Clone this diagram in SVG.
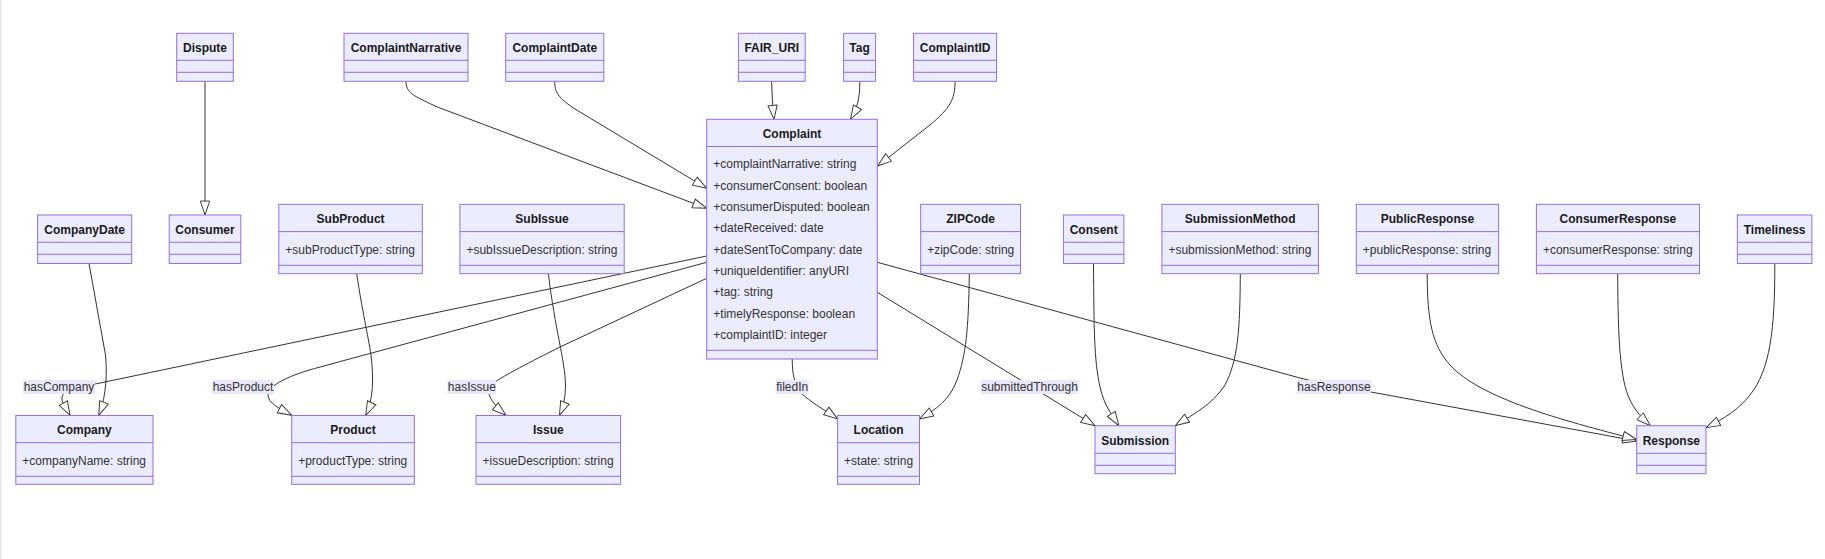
<svg xmlns="http://www.w3.org/2000/svg" width="1825" height="559" viewBox="0 0 1825 559">
<style>
.bx{fill:#ECECFF;stroke:#9370DB;stroke-width:1}
.dv{stroke:#9370DB;stroke-width:1}
.t{font-family:"Liberation Sans",Arial,sans-serif;font-size:12px;font-weight:bold;fill:#1a1a1a;text-anchor:middle}
.a{font-family:"Liberation Sans",Arial,sans-serif;font-size:12px;fill:#333}
.e{fill:none;stroke:#333;stroke-width:1;marker-end:url(#ext)}
.lb{fill:#e8e8fa}
.lt{font-family:"Liberation Sans",Arial,sans-serif;font-size:12px;fill:#333;text-anchor:middle}
</style>
<defs>
<marker id="ext" viewBox="0 0 20 14" refX="19" refY="7" markerWidth="15.5" markerHeight="10.85" markerUnits="userSpaceOnUse" orient="auto">
<path d="M1,1 V13 L19,7 Z" fill="#fff" stroke="#333" stroke-width="1.2"/>
</marker>
</defs>
<rect x="0" y="0" width="1825" height="559" fill="#fff"/>
<rect x="0" y="0" width="1.5" height="559" fill="#e6e6e6"/>

<g id="connectors">
<path class="e" d="M205,81.3 L205,215"/>
<path class="e" d="M406,81.3 C406,92 412,96 440,108 L706.7,208.3"/>
<path class="e" d="M554.7,81.3 C554.7,92 558,98 575,109 L706.7,188.3"/>
<path class="e" d="M771.6,81.3 Q772,100 774,119.3"/>
<path class="e" d="M859.8,81.3 C859.8,100 857,108 850.5,119.3"/>
<path class="e" d="M955,81.3 C955,100 950,108 930,125 L877.5,166"/>
<path class="e" d="M89,263.5 L105.5,355 C107,370 107,395 98.8,415.3"/>
<path class="e" d="M706.7,256 L100,383 C80,387 62,389 62,398 C62,404 66,408 70,415.3"/>
<path class="e" d="M706.7,262.3 L320,367 C290,375 268,385 268,395 C268,403 280,409 291.7,415.3"/>
<path class="e" d="M706.7,278.3 L560,347 C530,362 505,375 490,385 C486,392 490,402 506,415.3"/>
<path class="e" d="M356.7,273.7 C362,310 368,335 371,355 C374,380 373,400 365.7,415.3"/>
<path class="e" d="M548.4,273.7 C555,330 565,360 565.5,385 C565.5,398 563,407 559.5,415.3"/>
<path class="e" d="M792.2,359 C792.2,375 795,385 800,392 C810,402 825,410 837.6,419"/>
<path class="e" d="M969.3,273.7 C968.5,330 966,355 957,380 C950,400 935,410 919.5,419"/>
<path class="e" d="M877.3,292.3 L1095,425.7"/>
<path class="e" d="M1093.5,263.3 C1094,330 1094,360 1100,387 C1104,405 1112,415 1118.8,425.7"/>
<path class="e" d="M1240.3,273.7 C1240,330 1238,360 1225,385 C1212,405 1195,413 1175.3,425.7"/>
<path class="e" d="M877.3,262.3 L1300,378 C1320,383 1345,388 1371,392 L1636.7,441"/>
<path class="e" d="M1427.2,273.7 C1427.2,320 1432,345 1450,365 C1480,398 1560,420 1636.7,439.5"/>
<path class="e" d="M1617.7,273.7 C1618,340 1620,380 1630,400 C1636,412 1642,418 1650.4,425.7"/>
<path class="e" d="M1774.8,263.3 C1775,330 1770,370 1750,395 C1738,410 1725,418 1706.2,427.7"/>
<rect class="lb" x="23" y="380" width="72" height="14"/><text class="lt" x="59" y="391.2">hasCompany</text>
<rect class="lb" x="212" y="380" width="62" height="14"/><text class="lt" x="243" y="391.2">hasProduct</text>
<rect class="lb" x="447.5" y="380" width="48.5" height="14"/><text class="lt" x="471.8" y="391.2">hasIssue</text>
<rect class="lb" x="776" y="380" width="32.5" height="14"/><text class="lt" x="792.2" y="391.2">filedIn</text>
<rect class="lb" x="980.5" y="380" width="98" height="14"/><text class="lt" x="1029.5" y="391.2">submittedThrough</text>
<rect class="lb" x="1297" y="380" width="74" height="14"/><text class="lt" x="1334" y="391.2">hasResponse</text>
</g>

<g id="Dispute"><rect class="bx" x="176.7" y="33.3" width="56.6" height="48"/><line class="dv" x1="176.7" y1="60.3" x2="233.3" y2="60.3"/><line class="dv" x1="176.7" y1="72.3" x2="233.3" y2="72.3"/><text class="t" x="205" y="52">Dispute</text></g>
<g id="ComplaintNarrative"><rect class="bx" x="344" y="33.3" width="124" height="48"/><line class="dv" x1="344" y1="60.3" x2="468" y2="60.3"/><line class="dv" x1="344" y1="72.3" x2="468" y2="72.3"/><text class="t" x="406" y="52">ComplaintNarrative</text></g>
<g id="ComplaintDate"><rect class="bx" x="505.7" y="33.3" width="98.1" height="48"/><line class="dv" x1="505.7" y1="60.3" x2="603.8" y2="60.3"/><line class="dv" x1="505.7" y1="72.3" x2="603.8" y2="72.3"/><text class="t" x="554.75" y="52">ComplaintDate</text></g>
<g id="FAIR_URI"><rect class="bx" x="738.4" y="33.3" width="66.8" height="48"/><line class="dv" x1="738.4" y1="60.3" x2="805.2" y2="60.3"/><line class="dv" x1="738.4" y1="72.3" x2="805.2" y2="72.3"/><text class="t" x="771.8" y="52">FAIR_URI</text></g>
<g id="Tag"><rect class="bx" x="843.6" y="33.3" width="32" height="48"/><line class="dv" x1="843.6" y1="60.3" x2="875.6" y2="60.3"/><line class="dv" x1="843.6" y1="72.3" x2="875.6" y2="72.3"/><text class="t" x="859.6" y="52">Tag</text></g>
<g id="ComplaintID"><rect class="bx" x="913.6" y="33.3" width="83" height="48"/><line class="dv" x1="913.6" y1="60.3" x2="996.6" y2="60.3"/><line class="dv" x1="913.6" y1="72.3" x2="996.6" y2="72.3"/><text class="t" x="955.1" y="52">ComplaintID</text></g>

<g id="Complaint"><rect class="bx" x="706.7" y="119.3" width="170.6" height="239.7"/><line class="dv" x1="706.7" y1="146.5" x2="877.3" y2="146.5"/><line class="dv" x1="706.7" y1="350.3" x2="877.3" y2="350.3"/><text class="t" x="792" y="137.7">Complaint</text>
<text class="a" x="713.3" y="168.3">+complaintNarrative: string</text>
<text class="a" x="713.3" y="189.6">+consumerConsent: boolean</text>
<text class="a" x="713.3" y="211">+consumerDisputed: boolean</text>
<text class="a" x="713.3" y="232.3">+dateReceived: date</text>
<text class="a" x="713.3" y="253.6">+dateSentToCompany: date</text>
<text class="a" x="713.3" y="275">+uniqueIdentifier: anyURI</text>
<text class="a" x="713.3" y="296.3">+tag: string</text>
<text class="a" x="713.3" y="317.6">+timelyResponse: boolean</text>
<text class="a" x="713.3" y="339">+complaintID: integer</text></g>

<g id="CompanyDate"><rect class="bx" x="37.6" y="215" width="94.1" height="48.5"/><line class="dv" x1="37.6" y1="242.3" x2="131.7" y2="242.3"/><line class="dv" x1="37.6" y1="254.3" x2="131.7" y2="254.3"/><text class="t" x="84.65" y="233.7">CompanyDate</text></g>
<g id="Consumer"><rect class="bx" x="169.2" y="215" width="71.6" height="48.5"/><line class="dv" x1="169.2" y1="242.3" x2="240.8" y2="242.3"/><line class="dv" x1="169.2" y1="254.3" x2="240.8" y2="254.3"/><text class="t" x="205" y="233.7">Consumer</text></g>
<g id="SubProduct"><rect class="bx" x="278.8" y="204.3" width="143.5" height="69.4"/><line class="dv" x1="278.8" y1="231.6" x2="422.3" y2="231.6"/><line class="dv" x1="278.8" y1="265.3" x2="422.3" y2="265.3"/><text class="t" x="350.55" y="222.8">SubProduct</text><text class="a" x="285.3" y="254.3">+subProductType: string</text></g>
<g id="SubIssue"><rect class="bx" x="459.9" y="204.3" width="164.3" height="69.4"/><line class="dv" x1="459.9" y1="231.6" x2="624.2" y2="231.6"/><line class="dv" x1="459.9" y1="265.3" x2="624.2" y2="265.3"/><text class="t" x="542" y="222.8">SubIssue</text><text class="a" x="466.4" y="254.3">+subIssueDescription: string</text></g>
<g id="ZIPCode"><rect class="bx" x="920.7" y="204.3" width="99.8" height="69.4"/><line class="dv" x1="920.7" y1="231.6" x2="1020.5" y2="231.6"/><line class="dv" x1="920.7" y1="265.3" x2="1020.5" y2="265.3"/><text class="t" x="970.6" y="222.8">ZIPCode</text><text class="a" x="927.2" y="254.3">+zipCode: string</text></g>
<g id="Consent"><rect class="bx" x="1063.4" y="215" width="60.5" height="48.5"/><line class="dv" x1="1063.4" y1="242.3" x2="1123.9" y2="242.3"/><line class="dv" x1="1063.4" y1="254.3" x2="1123.9" y2="254.3"/><text class="t" x="1093.65" y="233.7">Consent</text></g>
<g id="SubmissionMethod"><rect class="bx" x="1161.9" y="204.3" width="156.5" height="69.4"/><line class="dv" x1="1161.9" y1="231.6" x2="1318.4" y2="231.6"/><line class="dv" x1="1161.9" y1="265.3" x2="1318.4" y2="265.3"/><text class="t" x="1240.15" y="222.8">SubmissionMethod</text><text class="a" x="1168.4" y="254.3">+submissionMethod: string</text></g>
<g id="PublicResponse"><rect class="bx" x="1356.3" y="204.3" width="142.3" height="69.4"/><line class="dv" x1="1356.3" y1="231.6" x2="1498.6" y2="231.6"/><line class="dv" x1="1356.3" y1="265.3" x2="1498.6" y2="265.3"/><text class="t" x="1427.45" y="222.8">PublicResponse</text><text class="a" x="1362.8" y="254.3">+publicResponse: string</text></g>
<g id="ConsumerResponse"><rect class="bx" x="1536.4" y="204.3" width="163.1" height="69.4"/><line class="dv" x1="1536.4" y1="231.6" x2="1699.5" y2="231.6"/><line class="dv" x1="1536.4" y1="265.3" x2="1699.5" y2="265.3"/><text class="t" x="1617.95" y="222.8">ConsumerResponse</text><text class="a" x="1542.9" y="254.3">+consumerResponse: string</text></g>
<g id="Timeliness"><rect class="bx" x="1737.3" y="215" width="74.6" height="48.5"/><line class="dv" x1="1737.3" y1="242.3" x2="1811.9" y2="242.3"/><line class="dv" x1="1737.3" y1="254.3" x2="1811.9" y2="254.3"/><text class="t" x="1774.6" y="233.7">Timeliness</text></g>

<g id="Company"><rect class="bx" x="15.8" y="415.5" width="137.2" height="68.8"/><line class="dv" x1="15.8" y1="442.7" x2="153" y2="442.7"/><line class="dv" x1="15.8" y1="476.3" x2="153" y2="476.3"/><text class="t" x="84.4" y="434">Company</text><text class="a" x="22.3" y="464.5">+companyName: string</text></g>
<g id="Product"><rect class="bx" x="291.7" y="415.5" width="122.6" height="68.8"/><line class="dv" x1="291.7" y1="442.7" x2="414.3" y2="442.7"/><line class="dv" x1="291.7" y1="476.3" x2="414.3" y2="476.3"/><text class="t" x="353" y="434">Product</text><text class="a" x="298.2" y="464.5">+productType: string</text></g>
<g id="Issue"><rect class="bx" x="476" y="415.5" width="144.6" height="68.8"/><line class="dv" x1="476" y1="442.7" x2="620.6" y2="442.7"/><line class="dv" x1="476" y1="476.3" x2="620.6" y2="476.3"/><text class="t" x="548.3" y="434">Issue</text><text class="a" x="482.5" y="464.5">+issueDescription: string</text></g>
<g id="Location"><rect class="bx" x="837.6" y="415.5" width="81.9" height="68.8"/><line class="dv" x1="837.6" y1="442.7" x2="919.5" y2="442.7"/><line class="dv" x1="837.6" y1="476.3" x2="919.5" y2="476.3"/><text class="t" x="878.55" y="434">Location</text><text class="a" x="844.1" y="464.5">+state: string</text></g>
<g id="Submission"><rect class="bx" x="1095" y="425.7" width="80.3" height="48"/><line class="dv" x1="1095" y1="453.3" x2="1175.3" y2="453.3"/><line class="dv" x1="1095" y1="465.3" x2="1175.3" y2="465.3"/><text class="t" x="1135.15" y="444.5">Submission</text></g>
<g id="Response"><rect class="bx" x="1636.7" y="425.7" width="69.3" height="48"/><line class="dv" x1="1636.7" y1="453.3" x2="1706" y2="453.3"/><line class="dv" x1="1636.7" y1="465.3" x2="1706" y2="465.3"/><text class="t" x="1671.35" y="444.5">Response</text></g>
</svg>
